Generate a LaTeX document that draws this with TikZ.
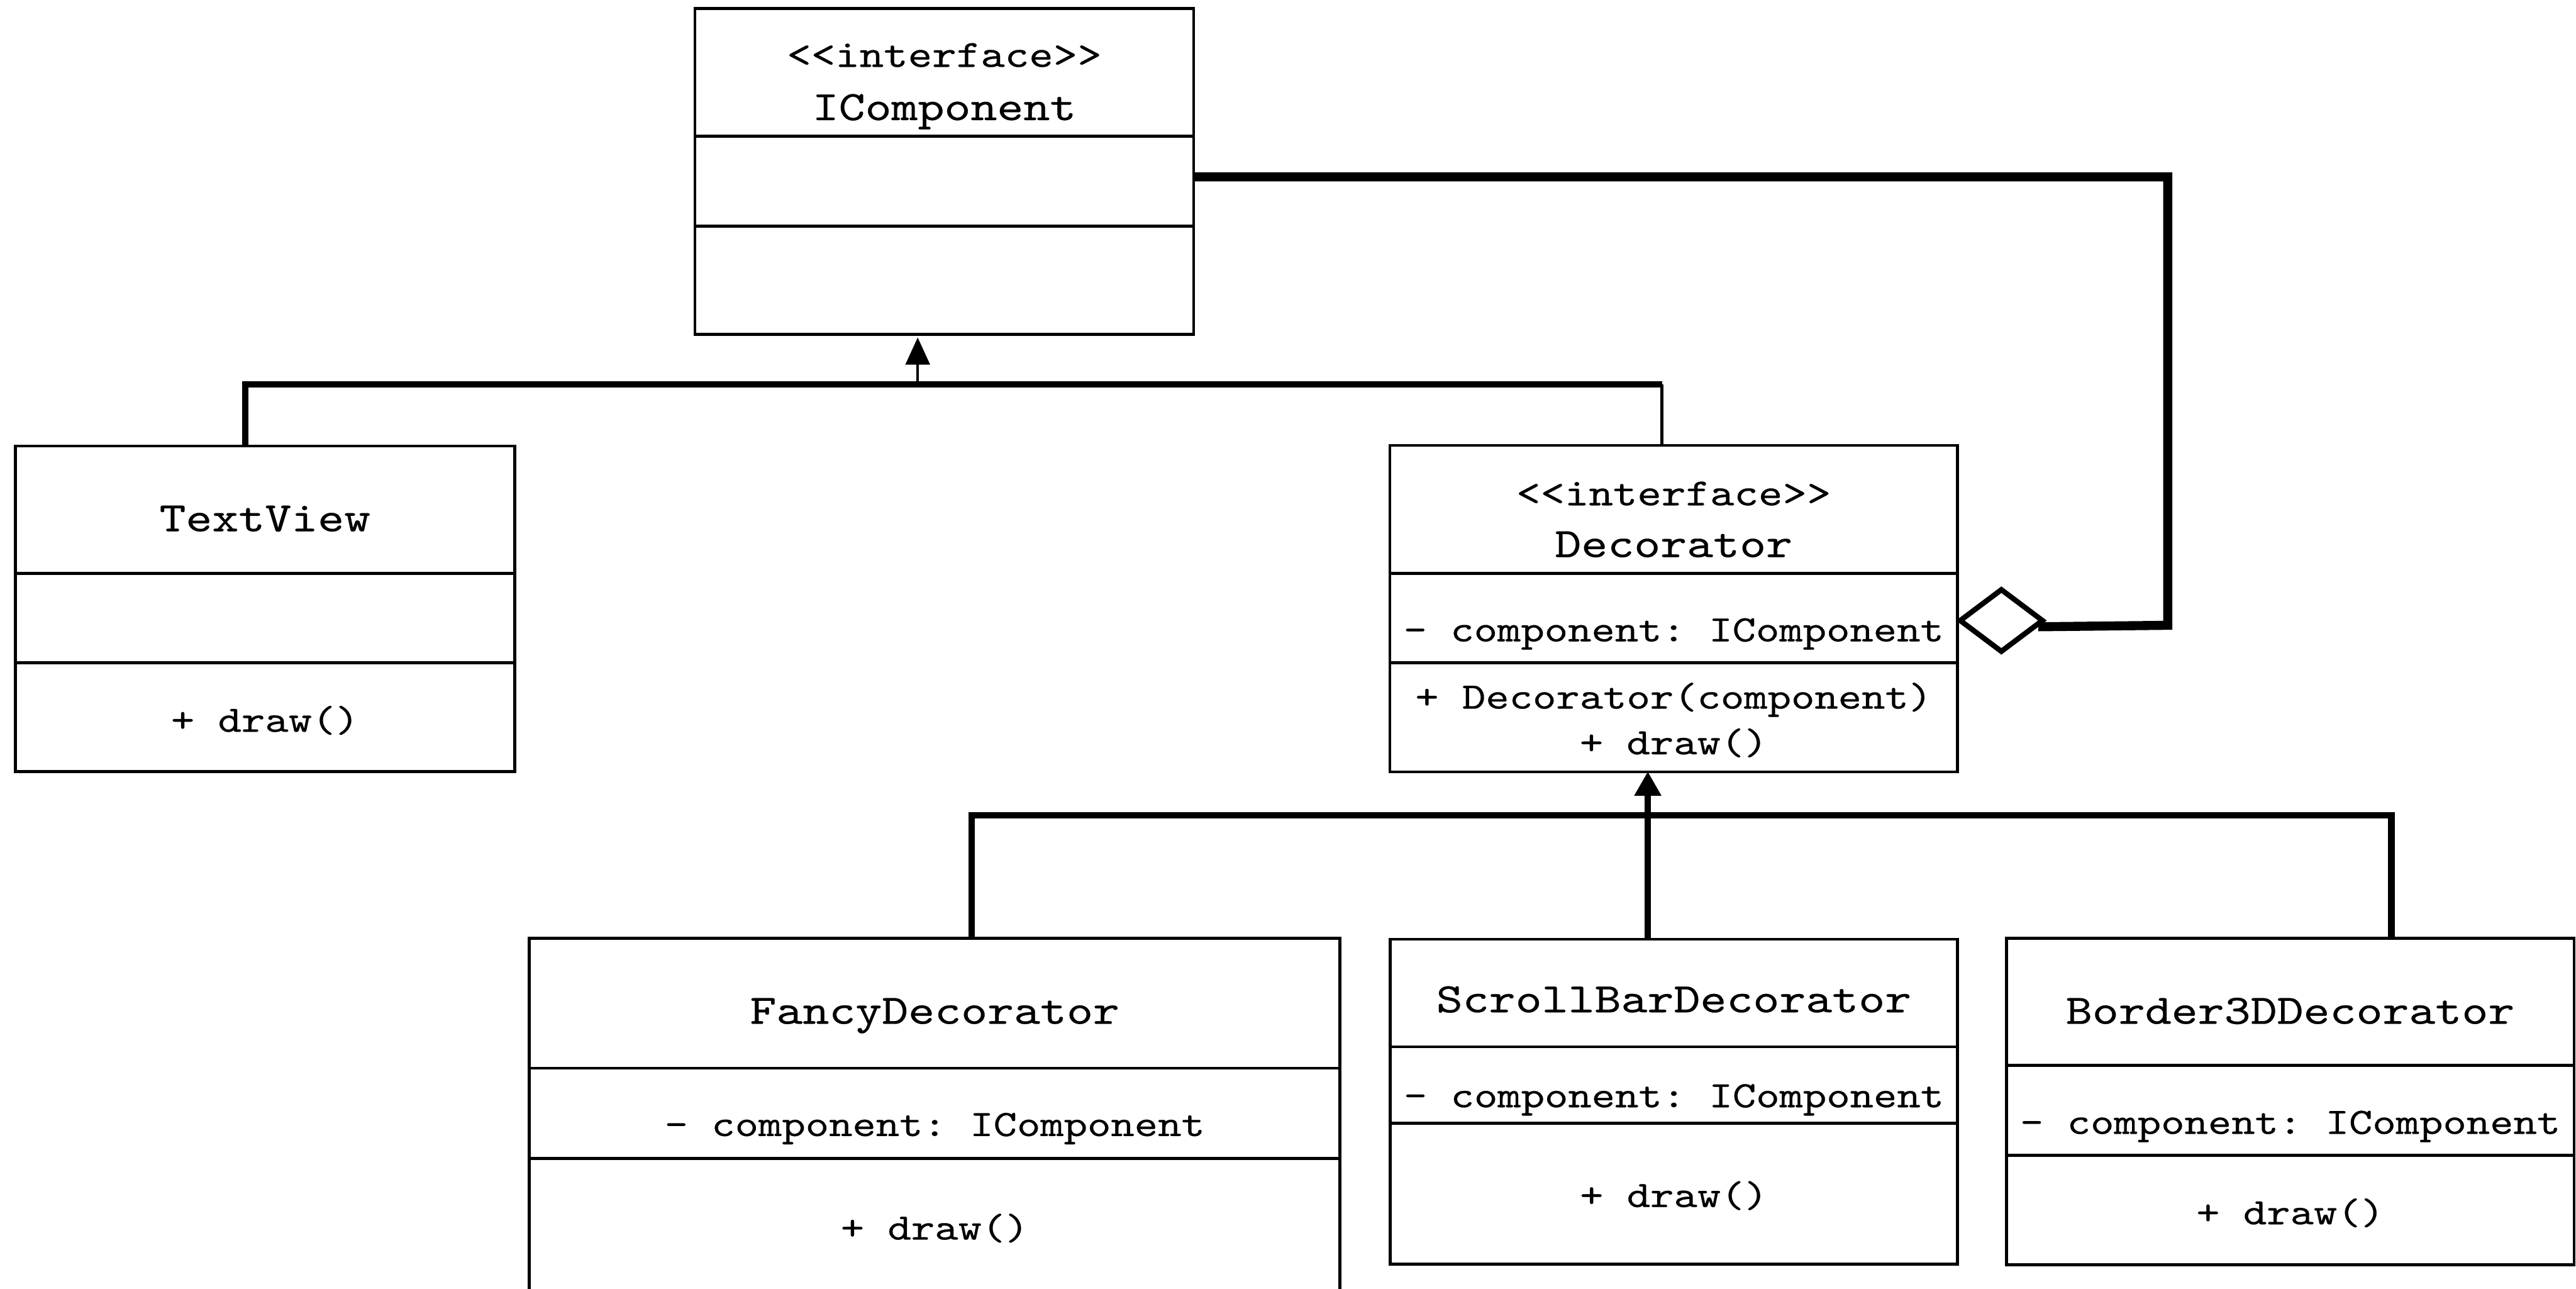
\documentclass[tikz,border=0pt]{standalone}
\usepackage{fontspec}
\setmonofont{lmmono10-regular.otf}[FakeStretch=1.2, FakeBold=0.4]
\usetikzlibrary{arrows.meta,shapes.geometric}

\tikzset{
  classbox/.style={draw=black, line width=1.8pt, inner sep=0pt, outer sep=0pt},
  classrule/.style={draw=black, line width=1.8pt},
  classname/.style={anchor=base, inner sep=0pt, font=\ttfamily\fontsize{25.5}{30}\selectfont},
  stereotype/.style={anchor=base, inner sep=0pt, font=\ttfamily\fontsize{23.4}{28}\selectfont},
  member/.style={anchor=base, inner sep=0pt, font=\ttfamily\fontsize{22.7}{27}\selectfont},
  genbus/.style={draw=black, line width=3.9pt, line join=miter},
  genstem/.style={draw=black, line width=1.6pt},
  aggline/.style={draw=black, line width=5.5pt, line join=miter},
  aggdiamond/.style={diamond, draw=black, line width=3.2pt, inner sep=0pt, outer sep=0pt,
    minimum width=50pt, minimum height=37.5pt},
}

% horizontal rule across a class box, #2 points below its top edge
\newcommand{\compartment}[2]{\draw[classrule] ([yshift=-#2pt]#1.north west) -- ([yshift=-#2pt]#1.north east);}

\begin{document}
\begin{tikzpicture}[x=1pt, y=-1pt]
\fill[white] (0,0) rectangle (1568,784.3);
\clip (0,0) rectangle (1568,784.3);

% ---- IComponent ----
\node[classbox, minimum width=303.6pt, minimum height=198.3pt] (icomp) at (574.8,104.25) {};
\compartment{icomp}{77.7}
\compartment{icomp}{132.5}
\node[stereotype] (icomp-st) at (574.8,40.7) {<\kern0pt<interface>\kern0pt>};
\node[classname] (icomp-name) at (574.8,73.1) {IComponent};

% ---- TextView ----
\node[classbox, minimum width=303.8pt, minimum height=198.1pt] (textview) at (161.3,370.45) {};
\compartment{textview}{77.6}
\compartment{textview}{131.8}
\node[classname] (textview-name) at (161.3,323.3) {TextView};
\node[member] (textview-op) at (161.3,445.3) {+ draw()};

% ---- Decorator ----
\node[classbox, minimum width=345.5pt, minimum height=198.7pt] (decorator) at (1018.75,370.35) {};
\compartment{decorator}{78}
\compartment{decorator}{132.4}
\node[stereotype] (decorator-st) at (1018.75,307.5) {<\kern0pt<interface>\kern0pt>};
\node[classname] (decorator-name) at (1018.75,339) {Decorator};
\node[member] (decorator-attr) at (1018.75,390.3) {- component: IComponent};
\node[member] (decorator-op1) at (1018.75,431.2) {+ Decorator(component)};
\node[member] (decorator-op2) at (1018.75,459) {+ draw()};

% ---- FancyDecorator ----
\node[classbox, minimum width=493.5pt, minimum height=269pt] (fancy) at (568.95,705.5) {};
\compartment{fancy}{79}
\compartment{fancy}{134}
\node[classname] (fancy-name) at (568.95,623) {FancyDecorator};
\node[member] (fancy-attr) at (568.95,691.3) {- component: IComponent};
\node[member] (fancy-op) at (568.95,754.3) {+ draw()};

% ---- ScrollBarDecorator ----
\node[classbox, minimum width=345.3pt, minimum height=197.8pt] (scroll) at (1018.85,670.4) {};
\compartment{scroll}{65.5}
\compartment{scroll}{112.1}
\node[classname] (scroll-name) at (1018.85,616) {ScrollBarDecorator};
\node[member] (scroll-attr) at (1018.85,673.8) {- component: IComponent};
\node[member] (scroll-op) at (1018.85,734.5) {+ draw()};

% ---- Border3DDecorator ----
\node[classbox, minimum width=345.5pt, minimum height=198.5pt] (border) at (1394.05,670.25) {};
\compartment{border}{77.4}
\compartment{border}{132}
\node[classname] (border-name) at (1394.05,623) {Border3DDecorator};
\node[member] (border-attr) at (1394.05,690) {- component: IComponent};
\node[member] (border-op) at (1394.05,745) {+ draw()};

% ---- generalisation: TextView, Decorator -> IComponent ----
\coordinate (j1) at (558.6,234);
\coordinate (tvstem) at ([xshift=-12.1pt]textview.north);
\coordinate (dstem) at ([xshift=-7.15pt]decorator.north);
\coordinate (ibase) at (icomp.south -| j1);
\draw[genbus] (tvstem) |- (dstem |- j1);
\draw[genstem] (dstem |- j1) -- (dstem);
\draw[genstem, -{Triangle[width=15pt, length=16.5pt, line width=0.6pt]}] (j1) -- ([yshift=-2pt]ibase);

% ---- generalisation: concrete decorators -> Decorator ----
\coordinate (busy) at (0,496);
\coordinate (fstem) at ([xshift=22.5pt]fancy.north);
\coordinate (sstem) at ([xshift=-15.85pt]scroll.north);
\coordinate (bstem) at ([xshift=61.6pt]border.north);
\draw[genbus] (fstem) -- (fstem |- busy) -- (bstem |- busy) -- (bstem);
\draw[genbus, -{Triangle[width=16.5pt, length=14.5pt, line width=0.6pt]}] (sstem) -- (sstem |- decorator.south);

% ---- aggregation: Decorator holds an IComponent ----
\node[aggdiamond, anchor=west] (agg) at ([xshift=1.7pt, yshift=-7.25pt]decorator.east) {};
\coordinate (aout) at ([yshift=-3.35pt]icomp.east);
\coordinate (acorner) at (1319.5,380.5);
\coordinate (ain) at ([xshift=-2.5pt, yshift=-3.8pt]agg.east);
\draw[aggline] (aout) -| (acorner) -- (ain);
\end{tikzpicture}
\end{document}
